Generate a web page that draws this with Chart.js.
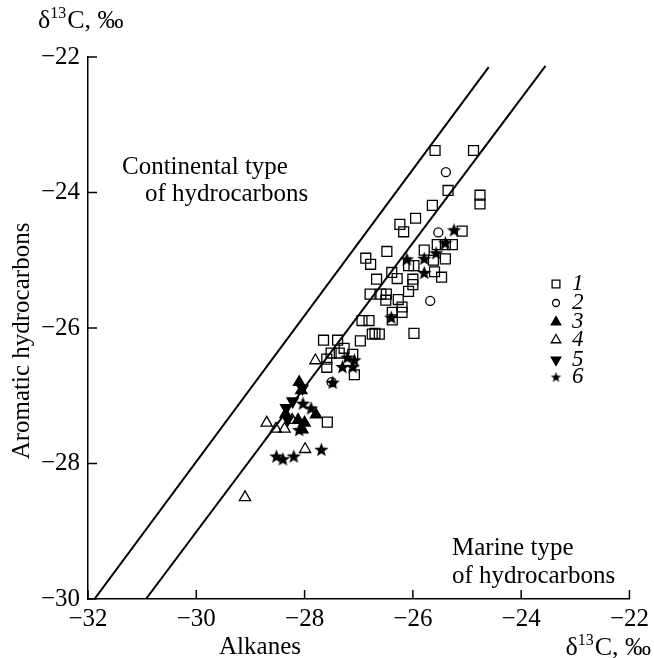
<!DOCTYPE html>
<html>
<head>
<meta charset="utf-8">
<script src="https://cdn.jsdelivr.net/npm/chart.js@4.4.1/dist/chart.umd.min.js"></script>
<style>
  html, body { margin: 0; padding: 0; background: #fff; }
</style>
</head>
<body>
<canvas id="grafic" width="654" height="658"></canvas>
<script>
// eixos
const xTicks = [-32, -30, -28, -26, -24, -22];
const yTicks = [-30, -28, -26, -24, -22];
const serieNoms = ['1', '2', '3', '4', '5', '6'];

// linies de separacio (alcans, aromatics)
const liniaContinental = [[-31.88, -30], [-24.6, -22.15]];
const liniaMarina = [[-30.93, -30], [-23.55, -22.13]];

// 1 - quadrats
const serie1 = [
  [-25.59, -23.38], [-24.88, -23.38], [-25.35, -23.97], [-24.76, -24.04], [-24.76, -24.17],
  [-25.64, -24.19], [-25.95, -24.38], [-26.24, -24.47], [-26.17, -24.58], [-25.09, -24.57],
  [-26.48, -24.87], [-25.79, -24.85], [-25.55, -24.77], [-25.4, -24.77], [-25.27, -24.77],
  [-26.87, -24.97], [-26.78, -25.06], [-26.08, -25.08], [-25.98, -25.08], [-25.4, -24.98],
  [-25.62, -25.0], [-25.6, -25.17], [-25.47, -25.25], [-26.67, -25.28], [-26.39, -25.18],
  [-26.29, -25.27], [-26.0, -25.28], [-26.0, -25.36], [-26.08, -25.46], [-26.79, -25.5],
  [-26.59, -25.5], [-26.49, -25.5], [-26.5, -25.59], [-26.27, -25.58], [-26.2, -25.69],
  [-26.38, -25.77], [-26.2, -25.77], [-26.38, -25.88], [-26.94, -25.89], [-26.81, -25.89],
  [-26.75, -26.09], [-26.62, -26.09], [-25.98, -26.08], [-26.97, -26.19], [-26.7, -26.08],
  [-27.65, -26.18], [-27.39, -26.18], [-27.27, -26.3], [-27.36, -26.37], [-27.11, -26.39],
  [-27.51, -26.37], [-27.59, -26.46], [-27.59, -26.58], [-27.08, -26.69], [-27.58, -27.39]
];
// 2 - cercles
const serie2 = [
  [-25.39, -23.7], [-25.53, -24.59], [-25.68, -25.6], [-27.5, -26.8]
];
// 3 - triangles plens
const serie3 = [
  [-28.1, -26.8], [-28.06, -26.92], [-27.79, -27.28], [-28.35, -27.27],
  [-28.12, -27.36], [-28.0, -27.4], [-28.04, -27.5]
];
// 4 - triangles buits
const serie4 = [
  [-27.8, -26.48], [-28.7, -27.4], [-28.53, -27.49], [-28.37, -27.49],
  [-28.23, -27.36], [-27.99, -27.79], [-29.1, -28.5]
];
// 5 - triangles invertits
const serie5 = [
  [-28.04, -26.89], [-28.22, -27.08], [-28.34, -27.18], [-28.31, -27.35]
];
// 6 - estrelles
const serie6 = [
  [-25.24, -24.55], [-25.4, -24.74], [-26.11, -24.98], [-25.79, -24.97], [-25.57, -24.89],
  [-25.79, -25.18], [-26.4, -25.84], [-27.21, -26.43], [-27.08, -26.47], [-27.3, -26.57],
  [-27.11, -26.57], [-27.48, -26.8], [-28.03, -27.11], [-27.88, -27.18], [-28.1, -27.5],
  [-28.52, -27.89], [-28.4, -27.93], [-28.2, -27.89], [-27.69, -27.79]
];

const FONT = 'Liberation Serif';
const punts = arr => arr.map(([x, y]) => ({x, y}));
const menys = v => String(v).replace('-', '\u2212');

function ferEstrella(r) {
  const c = document.createElement('canvas');
  c.width = c.height = Math.ceil(2 * r + 2);
  const g = c.getContext('2d');
  g.fillStyle = '#000';
  g.beginPath();
  for (let i = 0; i < 10; i++) {
    const a = -Math.PI / 2 + i * Math.PI / 5;
    const rr = i % 2 ? r * 0.42 : r;
    g.lineTo(c.width / 2 + rr * Math.cos(a), c.height / 2 + rr * Math.sin(a) + r * 0.1);
  }
  g.closePath();
  g.fill();
  return c;
}
const estrella = ferEstrella(7.5);
const estrellaPetita = ferEstrella(5.5);

const estils = [
  {pointStyle: 'rect', pointRadius: 7, pointBackgroundColor: 'rgba(0,0,0,0)', pointRotation: 0},
  {pointStyle: 'circle', pointRadius: 4.5, pointBackgroundColor: 'rgba(0,0,0,0)', pointRotation: 0},
  {pointStyle: 'triangle', pointRadius: 6.5, pointBackgroundColor: '#000', pointRotation: 0},
  {pointStyle: 'triangle', pointRadius: 6.5, pointBackgroundColor: 'rgba(0,0,0,0)', pointRotation: 0},
  {pointStyle: 'triangle', pointRadius: 6.5, pointBackgroundColor: '#000', pointRotation: 180},
  {pointStyle: estrella, pointRadius: 7.5, pointBackgroundColor: '#000', pointRotation: 0}
];
const series = [serie1, serie2, serie3, serie4, serie5, serie6];

const datasets = [
  {label: 'continental', data: punts(liniaContinental), showLine: true, borderColor: '#000', borderWidth: 2, pointRadius: 0},
  {label: 'marine', data: punts(liniaMarina), showLine: true, borderColor: '#000', borderWidth: 2, pointRadius: 0}
];
series.forEach((s, i) => {
  datasets.push(Object.assign({
    label: serieNoms[i],
    data: punts(s),
    showLine: false,
    pointBorderColor: '#000',
    pointBorderWidth: 1.3
  }, estils[i]));
});

function escriureDelta(ctx, x, y, alinearDreta) {
  ctx.textAlign = 'left';
  ctx.textBaseline = 'alphabetic';
  ctx.font = `26px ${FONT}`;
  const w1 = ctx.measureText('\u03b4').width;
  const w3 = ctx.measureText('C, \u2030').width;
  ctx.font = `16px ${FONT}`;
  const w2 = ctx.measureText('13').width;
  let x0 = alinearDreta ? x - (w1 + w2 + w3) : x;
  ctx.font = `26px ${FONT}`;
  ctx.fillText('\u03b4', x0, y);
  ctx.font = `16px ${FONT}`;
  ctx.fillText('13', x0 + w1, y - 10);
  ctx.font = `26px ${FONT}`;
  ctx.fillText('C, \u2030', x0 + w1 + w2 + 1, y);
}

const decoracio = {
  id: 'decoracio',
  afterDraw(chart) {
    const {ctx, chartArea: a} = chart;
    const sx = chart.scales.x, sy = chart.scales.y;
    ctx.save();
    ctx.strokeStyle = '#000';
    ctx.lineWidth = 1.5;
    xTicks.forEach(v => {
      const px = sx.getPixelForValue(v);
      ctx.beginPath(); ctx.moveTo(px, a.bottom); ctx.lineTo(px, a.bottom - 9); ctx.stroke();
    });
    yTicks.forEach(v => {
      const py = sy.getPixelForValue(v);
      ctx.beginPath(); ctx.moveTo(a.left, py); ctx.lineTo(a.left + 9, py); ctx.stroke();
    });

    ctx.fillStyle = '#000';
    escriureDelta(ctx, 38, 28, false);
    escriureDelta(ctx, 650, 655, true);

    ctx.font = `25px ${FONT}`;
    ctx.textAlign = 'center';
    ctx.fillText('Alkanes', 260, 654);

    ctx.save();
    ctx.translate(22, 341);
    ctx.rotate(-Math.PI / 2);
    ctx.textBaseline = 'middle';
    ctx.fillText('Aromatic hydrocarbons', 0, 0);
    ctx.restore();

    ctx.textAlign = 'left';
    ctx.textBaseline = 'alphabetic';
    ctx.fillText('Continental type', 122, 174);
    ctx.fillText('of hydrocarbons', 145, 201);
    ctx.fillText('Marine type', 452, 555);
    ctx.fillText('of hydrocarbons', 452, 583);

    // llegenda
    const files = [284, 303, 322, 340, 360, 377];
    const mides = [5.5, 3.5, 5.5, 5.5, 5.5, 5.5];
    series.forEach((s, i) => {
      const e = estils[i];
      ctx.fillStyle = e.pointBackgroundColor;
      ctx.strokeStyle = '#000';
      ctx.lineWidth = 1.3;
      Chart.helpers.drawPoint(ctx, {
        pointStyle: i === 5 ? estrellaPetita : e.pointStyle,
        radius: mides[i],
        rotation: e.pointRotation,
        borderWidth: 1.3
      }, 556, files[i]);
      ctx.fillStyle = '#000';
      ctx.font = `italic 23px ${FONT}`;
      ctx.textBaseline = 'middle';
      ctx.fillText(serieNoms[i], 572, files[i]);
    });
    ctx.restore();
  }
};

new Chart(document.getElementById('grafic'), {
  type: 'scatter',
  data: {datasets},
  options: {
    responsive: false,
    animation: false,
    events: [],
    layout: {padding: {top: 57, right: 22, left: 0, bottom: 0}},
    plugins: {legend: {display: false}, tooltip: {enabled: false}},
    scales: {
      x: {
        type: 'linear', min: -32, max: -22,
        afterBuildTicks: s => { s.ticks = xTicks.map(v => ({value: v})); },
        afterFit: s => { s.height = 59; },
        ticks: {font: {family: FONT, size: 25}, color: '#000', padding: 5, maxRotation: 0, autoSkip: false, callback: menys},
        grid: {drawOnChartArea: false, drawTicks: false},
        border: {color: '#000', width: 1.5}
      },
      y: {
        type: 'linear', min: -30, max: -22,
        afterBuildTicks: s => { s.ticks = yTicks.map(v => ({value: v})); },
        afterFit: s => { s.width = 88; },
        ticks: {font: {family: FONT, size: 25}, color: '#000', padding: 8, autoSkip: false, callback: menys},
        grid: {drawOnChartArea: false, drawTicks: false},
        border: {color: '#000', width: 1.5}
      }
    }
  },
  plugins: [decoracio]
});
</script>
</body>
</html>
